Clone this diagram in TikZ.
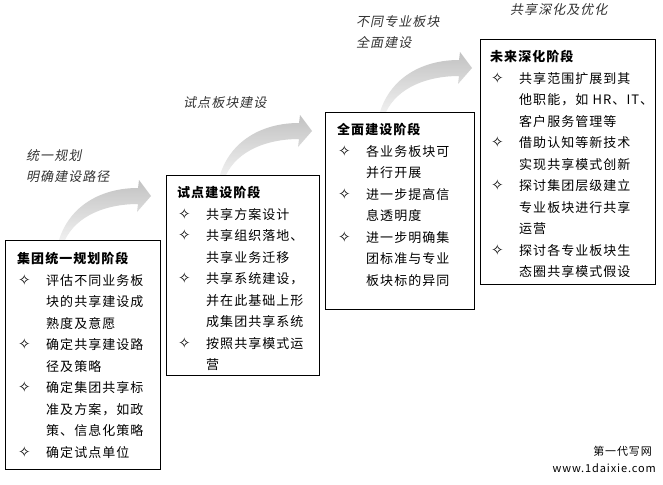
\documentclass[tikz,border=0pt]{standalone}
\usepackage{fontspec}
\setmainfont{Noto Sans CJK SC}[LetterSpace=8]
\newfontfamily\slantcjk{Noto Sans CJK SC}[FakeSlant=0.2,LetterSpace=8]
\newfontfamily\symfont{DejaVu Sans}
\usetikzlibrary{backgrounds}

\newcommand{\dia}{\makebox[29pt][l]{\hspace*{1pt}\symfont\fontsize{15}{15}\selectfont ✧}}
\newcommand{\itm}{\\\dia}
\newcommand{\cont}{\\\hspace*{29pt}}

\tikzset{
  stagebox/.style={draw=black, line width=1.2pt, fill=white, anchor=north west, inner sep=0pt},
  stagetext/.style={anchor=north west, inner sep=0pt, text width=170pt, align=left,
                    font=\fontsize{13}{21.5}\selectfont},
  arrowlabel/.style={anchor=west, inner sep=0pt, align=left, text=black!80,
                     font=\slantcjk\fontsize{13}{21}\selectfont},
  wmark/.style={anchor=east, inner sep=0pt, font=\fontsize{11}{13}\selectfont},
  bendarrow/.pic={
    \shade[top color=black!24, bottom color=black!6]
      (-3,0) .. controls (8,-35) and (40,-52) .. (76,-52)
      -- (77,-60) -- (89,-44) -- (75,-28) -- (76,-36)
      .. controls (45,-36) and (15,-25) .. (3,0) -- cycle;
  }
}

\begin{document}
\begin{tikzpicture}[x=1pt, y=-1pt]

  %% ════ 阶段方框 ════
  \node[stagebox, minimum width=155pt, minimum height=229pt] (s1) at (5,240) {};
  \node[stagebox, minimum width=153pt, minimum height=200pt] (s2) at (166,175) {};
  \node[stagebox, minimum width=149pt, minimum height=197pt] (s3) at (325,112) {};
  \node[stagebox, minimum width=175pt, minimum height=245pt] (s4) at (480,39) {};

  %% ════ 方框内文字 ════
  \node[stagetext] (s1t) at ([shift={(12,12)}]s1.north west) {%
    \textbf{集团统一规划阶段}
    \itm 评估不同业务板\cont 块的共享建设成\cont 熟度及意愿
    \itm 确定共享建设路\cont 径及策略
    \itm 确定集团共享标\cont 准及方案，如政\cont 策、信息化策略
    \itm 确定试点单位};
  \node[stagetext] (s2t) at ([shift={(11,11)}]s2.north west) {%
    \textbf{试点建设阶段}
    \itm 共享方案设计
    \itm 共享组织落地、\cont 共享业务迁移
    \itm 共享系统建设，\cont 并在此基础上形\cont 成集团共享系统
    \itm 按照共享模式运\cont 营};
  \node[stagetext] (s3t) at ([shift={(12,11)}]s3.north west) {%
    \textbf{全面建设阶段}
    \itm 各业务板块可\cont 并行开展
    \itm 进一步提高信\cont 息透明度
    \itm 进一步明确集\cont 团标准与专业\cont 板块标的异同};
  \node[stagetext] (s4t) at ([shift={(10,11)}]s4.north west) {%
    \textbf{未来深化阶段}
    \itm 共享范围扩展到其\cont 他职能，如 HR、IT、\cont 客户服务管理等
    \itm 借助认知等新技术\cont 实现共享模式创新
    \itm 探讨集团层级建立\cont 专业板块进行共享\cont 运营
    \itm 探讨各专业板块生\cont 态圈共享模式假设};

  %% ════ 弯箭头（压在方框下面）════
  \path (s1.north west) ++(57,0) coordinate (a1)
        (s2.north west) ++(57,0) coordinate (a2)
        (s3.north west) ++(58,0) coordinate (a3);
  \begin{scope}[on background layer]
    \fill[white] (0,0) rectangle (663,484);
    \pic at (a1) {bendarrow};
    \pic at (a2) {bendarrow};
    \pic at (a3) {bendarrow};
  \end{scope}

  %% ════ 箭头说明 ════
  \node[arrowlabel] (l1) at (26,166) {统一规划\\明确建设路径};
  \node[arrowlabel] (l2) at (183,103) {试点板块建设};
  \node[arrowlabel] (l3) at (356,32) {不同专业板块\\全面建设};
  \node[arrowlabel] (l4) at (510,10) {共享深化及优化};

  %% ════ 右下角水印 ════
  \node[wmark] (wm1) at (652,451) {第一代写网};
  \node[wmark] (wm2) at (656,468) {www.1daixie.com};

  % 钉死画布
  \pgfresetboundingbox
  \path[use as bounding box] (0,0) rectangle (663,484);
\end{tikzpicture}
\end{document}
